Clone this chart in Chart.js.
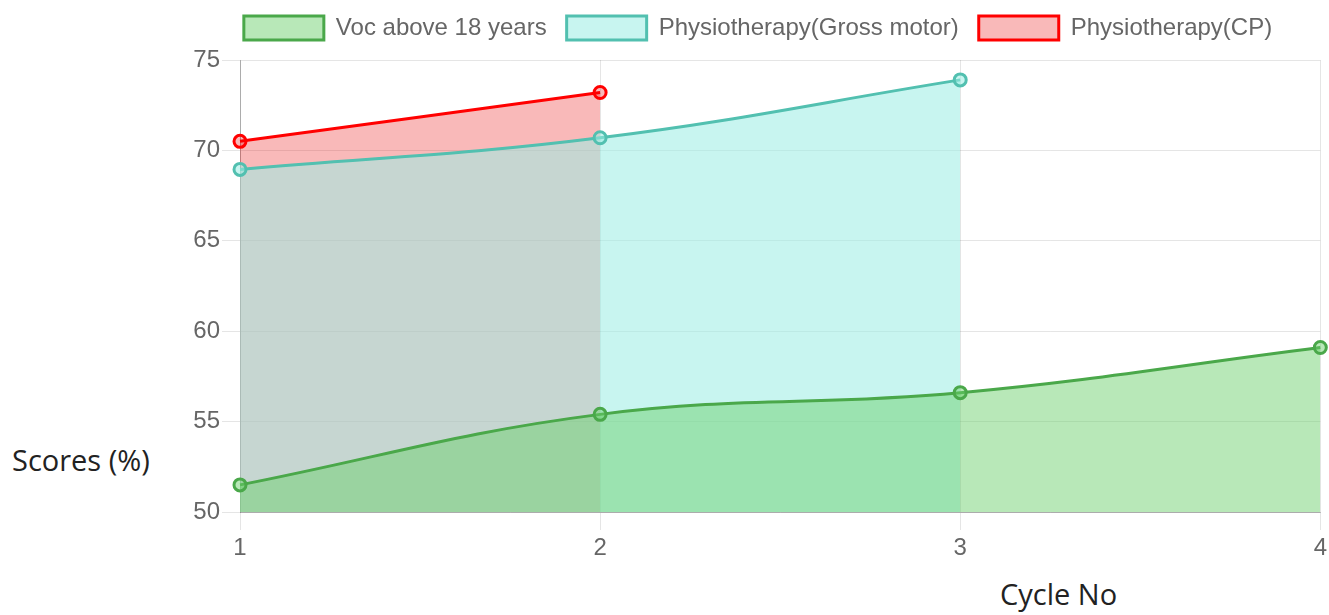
<!DOCTYPE html>
<html>
<head>
<meta charset="utf-8">
<script src="https://cdn.jsdelivr.net/npm/chart.js@4.4.0/dist/chart.umd.min.js"></script>
<style>
  html, body { margin: 0; padding: 0; background: #fff; width: 1329px; height: 615px; overflow: hidden; }
  #wrap { position: absolute; left: 185px; top: 0px; width: 1146px; height: 562px; }
  .axis-title { position: absolute; font-family: "Open Sans", "Noto Sans", sans-serif; font-size: 29px; color: #222; white-space: nowrap; }
  #ytitle { left: 12px; top: 440px; }
  #xtitle { left: 1000px; top: 574px; }
</style>
</head>
<body>
<div id="wrap"><canvas id="c"></canvas></div>
<div class="axis-title" id="ytitle">Scores (%)</div>
<div class="axis-title" id="xtitle">Cycle No</div>
<script>
const categories = ['1', '2', '3', '4'];
const seriesNames = ['Voc above 18 years', 'Physiotherapy(Gross motor)', 'Physiotherapy(CP)'];
const vocAbove18 = [51.5, 55.4, 56.6, 59.1];
const physioGrossMotor = [68.95, 70.7, 73.9];
const physioCP = [70.5, 73.2];
const yTicks = { min: 50, max: 75, step: 5 };

const FONT = 'Arial, "Liberation Sans", Helvetica, sans-serif';

const legendSpacer = {
  id: 'legendSpacer',
  beforeInit(chart) {
    const origFit = chart.legend.fit;
    chart.legend.fit = function () {
      origFit.bind(chart.legend)();
      this.height += 10;
    };
  }
};

new Chart(document.getElementById('c'), {
  type: 'line',
  plugins: [legendSpacer],
  data: {
    labels: categories,
    datasets: [
      {
        label: seriesNames[0], data: vocAbove18,
        borderColor: 'rgb(74,168,74)', backgroundColor: 'rgba(104,206,104,0.47)',
        pointBackgroundColor: 'rgba(104,206,104,0.47)', pointBorderColor: 'rgb(74,168,74)',
        borderWidth: 3, pointRadius: 6, pointBorderWidth: 3, tension: 0.4, fill: 'start'
      },
      {
        label: seriesNames[1], data: physioGrossMotor,
        borderColor: 'rgb(82,192,176)', backgroundColor: 'rgba(155,237,228,0.55)',
        pointBackgroundColor: 'rgba(155,237,228,0.55)', pointBorderColor: 'rgb(82,192,176)',
        borderWidth: 3, pointRadius: 6, pointBorderWidth: 3, tension: 0.4, fill: 'start'
      },
      {
        label: seriesNames[2], data: physioCP,
        borderColor: 'rgb(255,0,0)', backgroundColor: 'rgba(232,0,0,0.275)',
        pointBackgroundColor: 'rgba(232,0,0,0.275)', pointBorderColor: 'rgb(255,0,0)',
        borderWidth: 3, pointRadius: 6, pointBorderWidth: 3, tension: 0.4, fill: 'start'
      }
    ]
  },
  options: {
    responsive: true,
    maintainAspectRatio: false,
    animation: false,
    layout: { padding: { top: -4 } },
    plugins: {
      legend: {
        position: 'top',
        labels: {
          boxWidth: 80, boxHeight: 24, padding: 20,
          color: '#666', font: { family: FONT, size: 24 }
        }
      },
      tooltip: { enabled: false }
    },
    scales: {
      x: {
        grid: { color: 'rgba(0,0,0,0.1)', tickLength: 18, lineWidth: 1 },
        border: { color: 'rgba(0,0,0,0.25)' },
        ticks: { color: '#666', font: { family: FONT, size: 24 }, padding: 4, maxRotation: 0 },
        afterFit: s => { s.height = 50; }
      },
      y: {
        min: yTicks.min, max: yTicks.max,
        grid: { color: 'rgba(0,0,0,0.1)', tickLength: 18 },
        border: { color: 'rgba(0,0,0,0.25)' },
        ticks: { stepSize: yTicks.step, color: '#666', font: { family: FONT, size: 24 }, padding: 2 },
        afterFit: s => { s.width = 55; }
      }
    }
  }
});
</script>
</body>
</html>
